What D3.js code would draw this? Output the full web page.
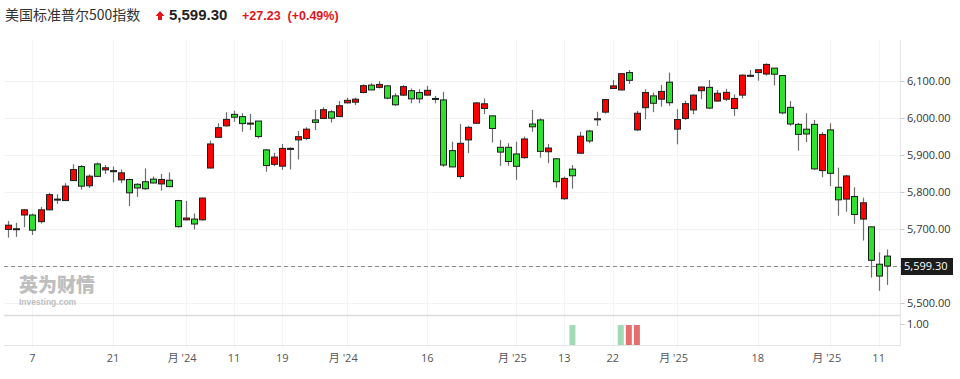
<!DOCTYPE html>
<html>
<head>
<meta charset="utf-8">
<script src="https://cdn.jsdelivr.net/npm/d3@7"></script>
<style>
  body { margin: 0; background: #fff; }
  svg { display: block; font-family: "Open Sans", "Noto Sans", sans-serif; }
</style>
</head>
<body>
<svg id="chart" width="960" height="379"></svg>
<script>
"use strict";

// trading days, Oct 2 2024 -> Mar 12 2025
var dates = [
  "2024-10-02","2024-10-03","2024-10-04","2024-10-07","2024-10-08","2024-10-09","2024-10-10","2024-10-11",
  "2024-10-14","2024-10-15","2024-10-16","2024-10-17","2024-10-18","2024-10-21","2024-10-22","2024-10-23",
  "2024-10-24","2024-10-25","2024-10-28","2024-10-29","2024-10-30","2024-10-31","2024-11-01","2024-11-04",
  "2024-11-05","2024-11-06","2024-11-07","2024-11-08","2024-11-11","2024-11-12","2024-11-13","2024-11-14",
  "2024-11-15","2024-11-18","2024-11-19","2024-11-20","2024-11-21","2024-11-22","2024-11-25","2024-11-26",
  "2024-11-27","2024-11-29","2024-12-02","2024-12-03","2024-12-04","2024-12-05","2024-12-06","2024-12-09",
  "2024-12-10","2024-12-11","2024-12-12","2024-12-13","2024-12-16","2024-12-17","2024-12-18","2024-12-19",
  "2024-12-20","2024-12-23","2024-12-24","2024-12-26","2024-12-27","2024-12-30","2024-12-31","2025-01-02",
  "2025-01-03","2025-01-06","2025-01-07","2025-01-08","2025-01-10","2025-01-13","2025-01-14","2025-01-15",
  "2025-01-16","2025-01-17","2025-01-21","2025-01-22","2025-01-23","2025-01-24","2025-01-27","2025-01-28",
  "2025-01-29","2025-01-30","2025-01-31","2025-02-03","2025-02-04","2025-02-05","2025-02-06","2025-02-07",
  "2025-02-10","2025-02-11","2025-02-12","2025-02-13","2025-02-14","2025-02-18","2025-02-19","2025-02-20",
  "2025-02-21","2025-02-24","2025-02-25","2025-02-26","2025-02-27","2025-02-28","2025-03-03","2025-03-04",
  "2025-03-05","2025-03-06","2025-03-07","2025-03-10","2025-03-11","2025-03-12"
];

var open = [
  5698,5698,5737,5737,5719,5751,5778,5776, 5830,5868,5816,5875,5859,5857,5832,5833,
  5820,5827,5834,5821,5831,5776,5724,5726, 5724,5864,5947,5978,6009,6003,5985,5991,
  5913,5874,5869,5917,5940,5944,5994,5998, 6016,6003,6040,6042,6068,6088,6082,6086,
  6059,6061,6073,6068,6061,6052,6048,5911, 5841,5940,5985,6025,6005,5920,5920,5902,
  5892,5983,5994,5908,5889,5781,5861,5904, 5964,5996,6015,6079,6075,6122,5967,6027,
  6059,6050,6096,5969,5998,6021,6073,6082, 6045,6050,6025,6061,6114,6122,6118,6134,
  6114,6028,5982,5969,5982,5857,5967,5812, 5780,5787,5726,5705,5604,5626
];
var high = [
  5721,5716,5753,5741,5759,5797,5793,5823, 5874,5872,5847,5879,5872,5868,5860,5835,
  5823,5863,5841,5848,5852,5778,5775,5741, 5784,5938,5985,6015,6019,6012,6010,5991,
  5915,5905,5929,5920,5964,5974,6021,6028, 6021,6045,6054,6054,6090,6093,6099,6088,
  6066,6088,6079,6077,6086,6059,6070,5935, 5983,5978,6042,6052,6006,5940,5931,5935,
  5949,6021,5998,5929,5890,5841,5872,5962, 5967,6016,6051,6102,6120,6129,6018,6077,
  6068,6088,6122,6023,6046,6063,6084,6102, 6075,6078,6063,6117,6129,6130,6147,6134,
  6114,6045,5986,6012,5994,5961,5985,5865, 5846,5812,5784,5705,5636,5644
];
var low = [
  5676,5678,5704,5683,5714,5750,5767,5775, 5829,5806,5810,5840,5848,5825,5823,5761,
  5786,5805,5823,5803,5812,5703,5722,5698, 5722,5863,5946,5976,5989,5962,5967,5944,
  5854,5869,5859,5860,5887,5940,5967,5996, 5987,6003,6039,6034,6066,6075,6079,6050,
  6032,6059,6039,6039,6060,6039,5867,5866, 5834,5904,5984,6010,5933,5870,5870,5832,
  5889,5962,5892,5877,5811,5778,5808,5904, 5931,5978,6011,6078,6074,6091,5964,5996,
  6015,6030,6032,5928,5994,6009,6050,6023, 6043,6045,6005,6052,6111,6100,6114,6087,
  6009,5978,5911,5934,5859,5839,5815,5735, 5746,5713,5668,5568,5532,5548
];
var close = [
  5709.5,5699.9,5751,5696,5751,5792,5780,5815, 5859.8,5815,5842,5841.5,5864.7,5854,5851,5797,
  5810,5808,5823.5,5833,5813.7,5705.5,5728.8,5712.7, 5782.8,5929,5973,5995.5,6001.4,5984,5985.4,5949,
  5870.6,5893.6,5917,5917.1,5948.7,5969,5987.4,6021.6, 5998.7,6032.4,6047,6050,6086.5,6075,6090,6052.8,
  6034.9,6084,6051,6051,6074,6050.6,5872,5867, 5930.8,5974,6040,6037.6,5970.8,5907,5881.6,5868.6,
  5942.5,5975.4,5909,5918,5827,5836,5843,5950, 5937,5997,6049,6086,6119,6101,6012,6068,
  6039,6071,6040.5,5995,6038,6061,6083,6026, 6066,6068.5,6052,6115,6114.6,6129.6,6144,6117.5,
  6013,5983,5955,5956,5861.6,5954.5,5849.7,5778, 5842.6,5738.5,5770,5614.6,5572,5599.3
];

var priceTicks = [5500, 5700, 5800, 5900, 6000, 6100];
var gridPrices = [5500, 5600, 5700, 5800, 5900, 6000, 6100];
var lastPrice = 5599.30;

var xTickDates = ["2024-10-07","2024-10-21","2024-11-01","2024-11-11","2024-11-19","2024-12-02",
                  "2024-12-16","2025-01-02","2025-01-13","2025-01-22","2025-02-03","2025-02-18",
                  "2025-03-03","2025-03-11"];
var xTickLabels = ["7","21","月 '24","11","19","月 '24","16","月 '25","13","22","月 '25","18","月 '25","11"];

// lower panel
var subDates = ["2025-01-14","2025-01-23","2025-01-24","2025-01-27"];
var subValues = [1, 1, 1, 1];
var subColors = ["#a3d9b4", "#a3d9b4", "#e56e6e", "#e56e6e"];

var svg = d3.select("#chart");

var x = d3.scalePoint().domain(dates).range([8.3, 886.7]);
var y = d3.scaleLinear().domain([5500, 6100]).range([302.7, 80.7]);
var ySub = d3.scaleLinear().domain([0, 1]).range([345, 325]);

var plotLeft = 4, plotRight = 900.5;

// grid
svg.append("g").selectAll("line")
  .data(gridPrices).enter().append("line")
  .attr("x1", plotLeft).attr("x2", plotRight)
  .attr("y1", function(d){ return Math.round(y(d)) + 0.5; })
  .attr("y2", function(d){ return Math.round(y(d)) + 0.5; })
  .attr("stroke", "#f2f2f2");

svg.append("g").selectAll("line")
  .data(xTickDates).enter().append("line")
  .attr("x1", function(d){ return Math.round(x(d)) + 0.5; })
  .attr("x2", function(d){ return Math.round(x(d)) + 0.5; })
  .attr("y1", 40).attr("y2", 348)
  .attr("stroke", "#f4f4f7");

// sub panel borders
svg.append("line").attr("x1", plotLeft).attr("x2", plotRight)
  .attr("y1", 315.5).attr("y2", 315.5).attr("stroke", "#dcdce0").attr("stroke-width", 1.5);
svg.append("line").attr("x1", plotLeft).attr("x2", plotRight)
  .attr("y1", 345.5).attr("y2", 345.5).attr("stroke", "#e6e6ea");

// right axis line
svg.append("line").attr("x1", plotRight).attr("x2", plotRight)
  .attr("y1", 40).attr("y2", 346).attr("stroke", "#e3e3e8");

// watermark
var wm = svg.append("g").attr("opacity", 0.55);
wm.append("text").attr("x", 19).attr("y", 292)
  .attr("font-family", "Noto Sans CJK SC").attr("font-weight", 900)
  .attr("font-size", 19).attr("fill", "#8a8a8a").text("英为财情");
wm.append("text").attr("x", 19).attr("y", 305)
  .attr("font-family", "Liberation Sans").attr("font-weight", "bold")
  .attr("font-size", 8.5).attr("fill", "#8a8a8a").text("Investing.com");

// last price dashed line
svg.append("line").attr("x1", plotLeft).attr("x2", plotRight)
  .attr("y1", Math.round(y(lastPrice)) + 0.5).attr("y2", Math.round(y(lastPrice)) + 0.5)
  .attr("stroke", "#8c8c8c").attr("stroke-dasharray", "4,3");

// candles
var idx = d3.range(dates.length);
var bw = 6;
var candles = svg.append("g");

candles.selectAll("line.wick")
  .data(idx).enter().append("line")
  .attr("class", "wick")
  .attr("x1", function(i){ return Math.round(x(dates[i])) + 0.5; })
  .attr("x2", function(i){ return Math.round(x(dates[i])) + 0.5; })
  .attr("y1", function(i){ return y(high[i]); })
  .attr("y2", function(i){ return y(low[i]); })
  .attr("stroke", "#6e6e6e").attr("stroke-width", 1.2);

candles.selectAll("rect.body")
  .data(idx).enter().append("rect")
  .attr("class", "body")
  .attr("x", function(i){ return Math.round(x(dates[i])) + 0.5 - bw / 2; })
  .attr("y", function(i){ return y(Math.max(open[i], close[i])); })
  .attr("width", bw)
  .attr("height", function(i){ return Math.max(1, Math.abs(y(open[i]) - y(close[i]))); })
  .attr("fill", function(i){ return close[i] >= open[i] ? "#ff0000" : "#2fe02f"; })
  .attr("stroke", "#1e1e1e").attr("stroke-width", 1);

// sub panel bars
svg.append("g").selectAll("rect")
  .data(subDates).enter().append("rect")
  .attr("x", function(d){ return x(d) - 3; })
  .attr("y", function(d, i){ return ySub(subValues[i]); })
  .attr("width", 6)
  .attr("height", function(d, i){ return ySub(0) - ySub(subValues[i]); })
  .attr("fill", function(d, i){ return subColors[i]; });

// right price axis
var axisG = svg.append("g");
axisG.selectAll("line")
  .data(priceTicks).enter().append("line")
  .attr("x1", plotRight).attr("x2", plotRight + 4)
  .attr("y1", function(d){ return Math.round(y(d)) + 0.5; })
  .attr("y2", function(d){ return Math.round(y(d)) + 0.5; })
  .attr("stroke", "#c8c8c8");
axisG.selectAll("text")
  .data(priceTicks).enter().append("text")
  .attr("x", 907).attr("y", function(d){ return y(d) + 4; })
  .attr("font-size", 11).attr("fill", "#333")
  .text(function(d){ return d3.format(",.2f")(d); });

// sub axis label
svg.append("line").attr("x1", plotRight).attr("x2", plotRight + 4)
  .attr("y1", 324.5).attr("y2", 324.5).attr("stroke", "#c8c8c8");
svg.append("text").attr("x", 907).attr("y", 328)
  .attr("font-size", 11).attr("fill", "#333").text("1.00");

// last price tag
svg.append("rect").attr("x", 901).attr("y", Math.round(y(lastPrice)) - 8)
  .attr("width", 52).attr("height", 17).attr("fill", "#1c1c1c");
svg.append("text").attr("x", 904).attr("y", y(lastPrice) + 4)
  .attr("font-size", 11).attr("fill", "#fff")
  .text(d3.format(",.2f")(lastPrice));

// bottom axis labels
svg.append("g").selectAll("text")
  .data(xTickDates).enter().append("text")
  .attr("x", function(d, i){ return x(d) - (xTickLabels[i].indexOf("月") >= 0 ? 3.5 : 0); })
  .attr("y", 362)
  .attr("text-anchor", "middle")
  .attr("font-family", "'Open Sans', 'Noto Sans CJK SC', sans-serif")
  .attr("font-size", 11).attr("fill", "#555")
  .text(function(d, i){ return xTickLabels[i]; });

// header
svg.append("text").attr("x", 5).attr("y", 20)
  .attr("font-family", "'Noto Sans CJK SC', sans-serif")
  .attr("font-size", 14).attr("fill", "#333")
  .text("美国标准普尔500指数");
svg.append("path")
  .attr("d", "M160,11 L164.5,16 L162,16 L162,20 L158,20 L158,16 L155.5,16 Z")
  .attr("fill", "#e1141b");
svg.append("text").attr("x", 169).attr("y", 20)
  .attr("font-family", "'Liberation Sans', Arial, sans-serif").attr("font-weight", "bold")
  .attr("font-size", 15).attr("fill", "#222")
  .text(d3.format(",.2f")(lastPrice));
svg.append("text").attr("x", 242).attr("y", 20)
  .attr("font-family", "'Liberation Sans', Arial, sans-serif").attr("font-weight", "bold")
  .attr("font-size", 12.5).attr("fill", "#e1141b")
  .text("+27.23  (+0.49%)").attr("xml:space", "preserve");
</script>
</body>
</html>
